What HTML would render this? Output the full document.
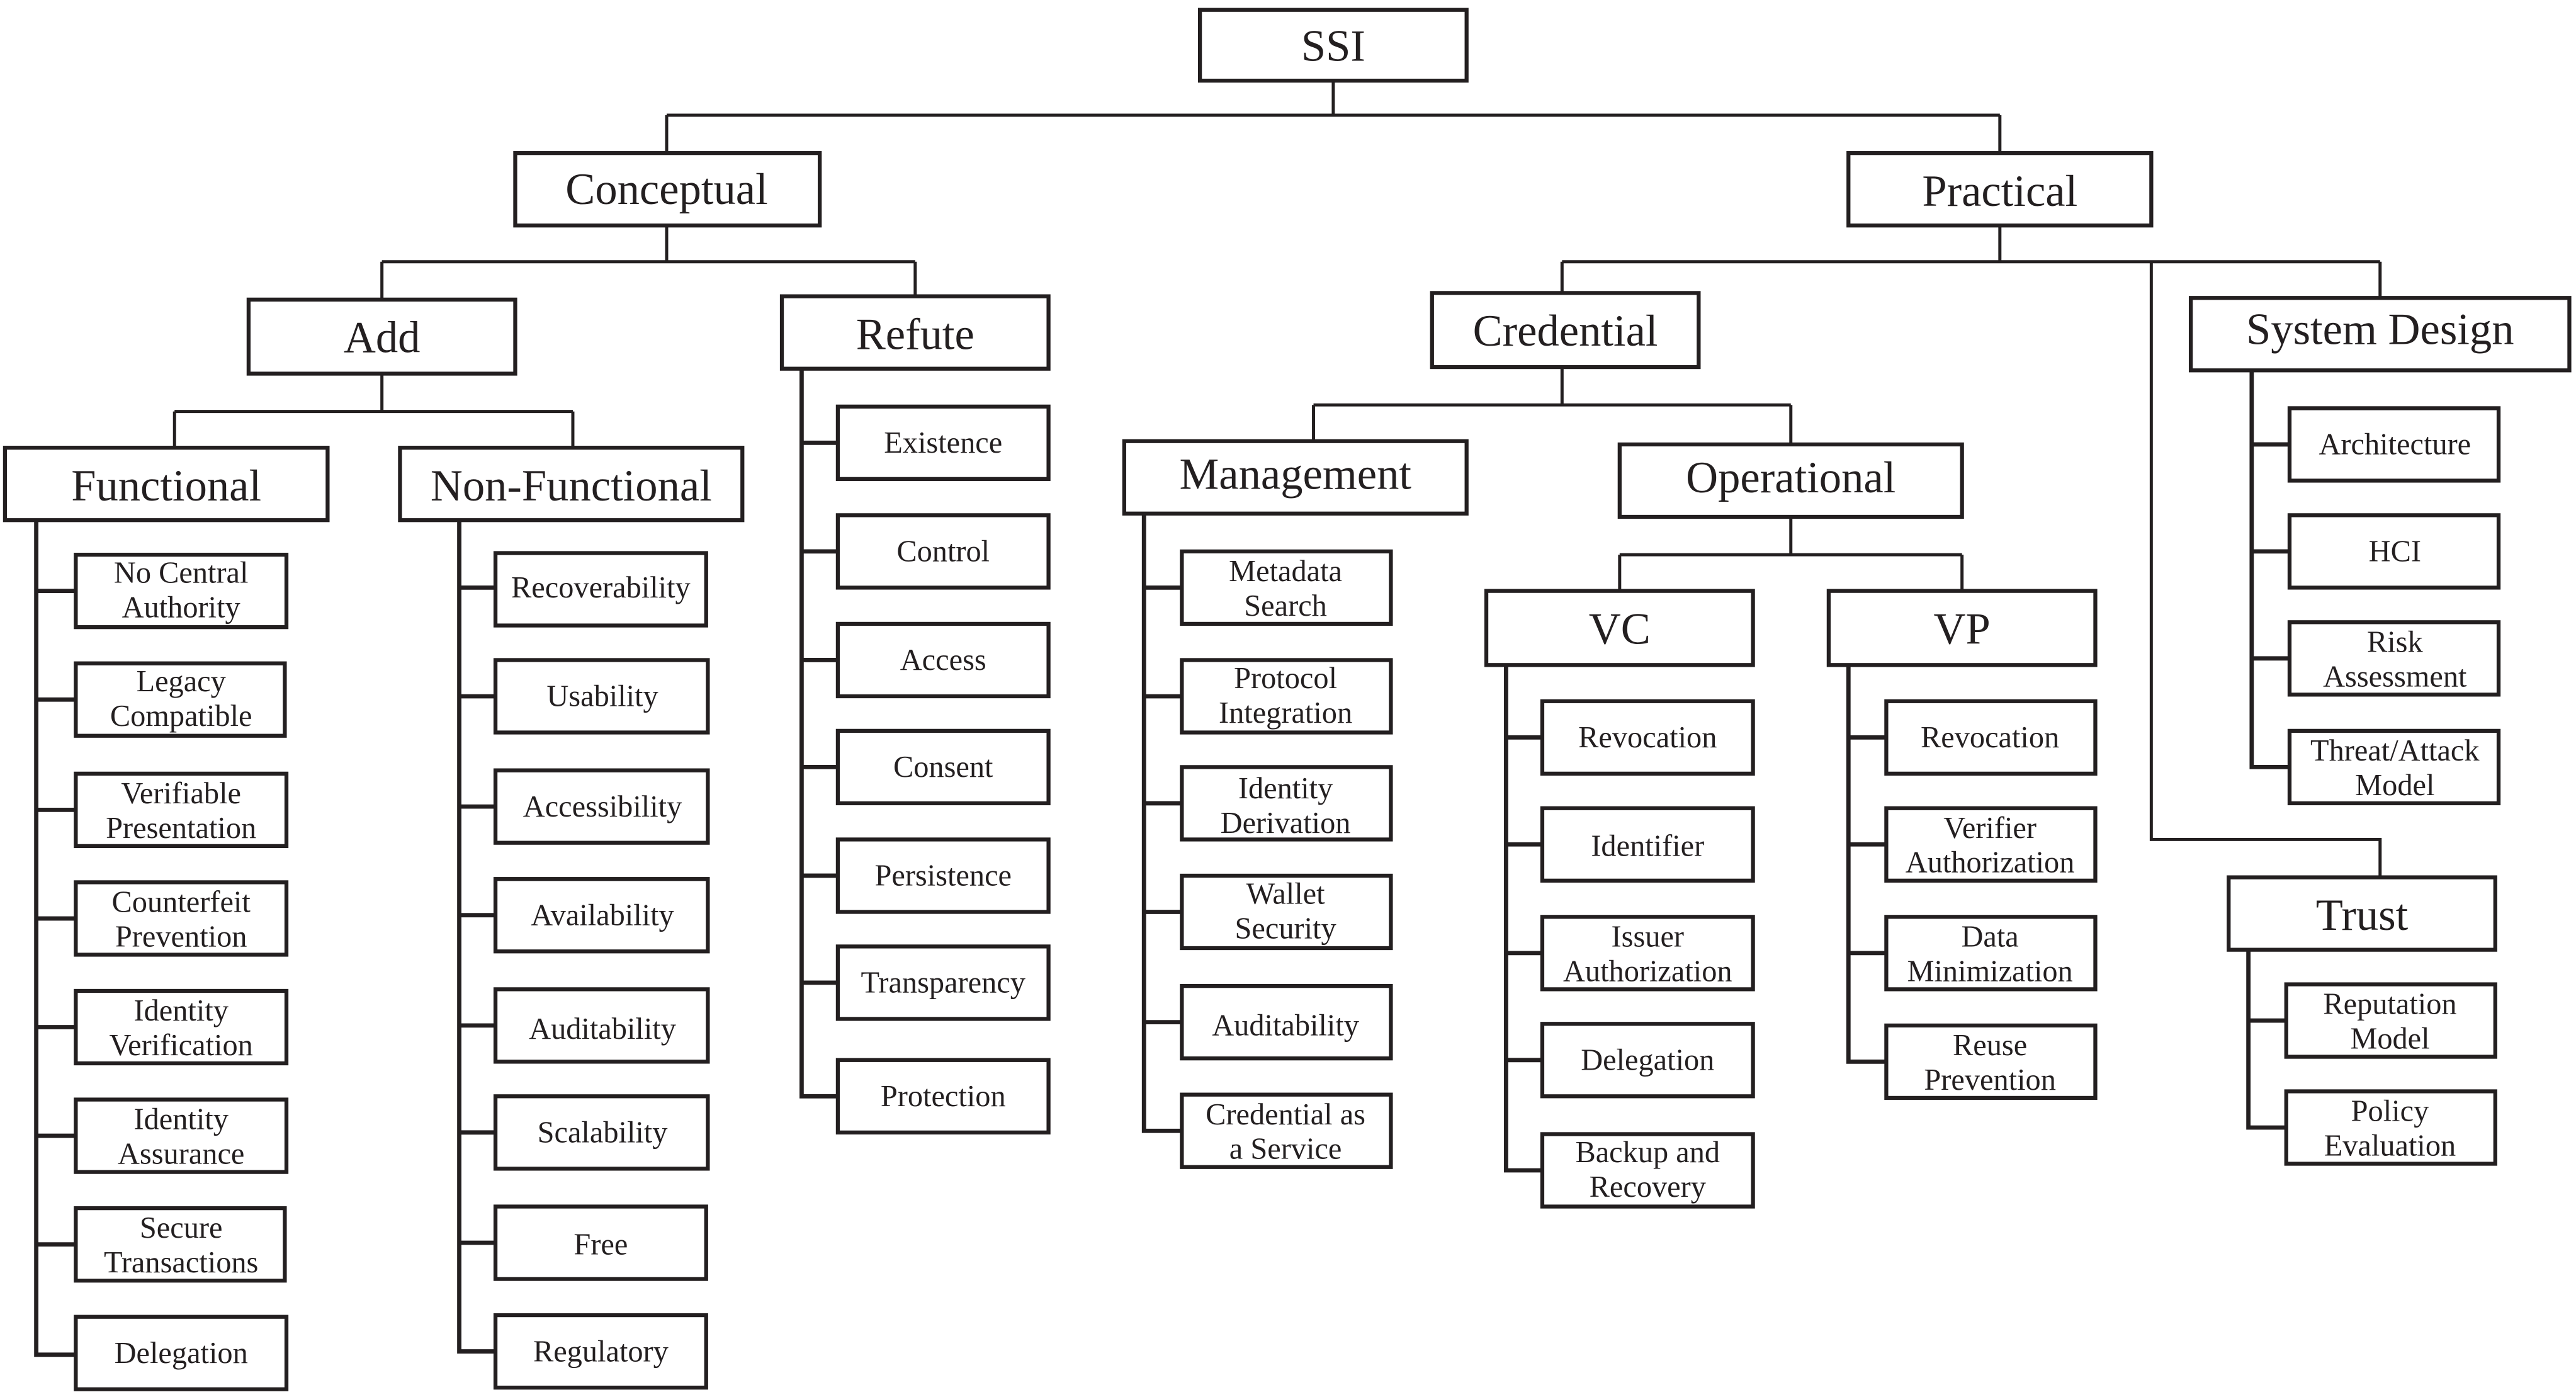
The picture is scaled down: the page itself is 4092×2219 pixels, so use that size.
<!DOCTYPE html>
<html><head><meta charset="utf-8"><style>
html,body{margin:0;padding:0;background:#fff}
svg{display:block}
text{font-family:"Liberation Serif",serif;fill:#231f20;text-anchor:middle}
.h{font-size:27px}
.l{font-size:18.5px}
</style></head><body>
<svg width="4092" height="2219" viewBox="0 0 1565 848.7" xmlns="http://www.w3.org/2000/svg">
<g fill="none" stroke="#231f20" stroke-width="1.9">
<!-- top connectors -->
<path d="M810 49V70M405 70H1215M405 70V93M1215 70V93"/>
<path d="M405 137V159M232 159H556M232 159V182M556 159V180"/>
<path d="M232 227V250M106 250H348M106 250V272M348 250V272"/>
<path d="M1215 137V159M949 159H1446M949 159V178M1446 159V181M1307 159V510H1446V533"/>
<path d="M949 223V246M798 246H1088M798 246V268M1088 246V270"/>
<path d="M1088 314V337M984 337H1192M984 337V359M1192 337V359"/>
</g>
<g fill="none" stroke="#231f20" stroke-width="2.6">
<!-- spines -->
<path d="M22 316V823H46M22 359H46M22 425H46M22 492H46M22 558H46M22 624H46M22 690H46M22 756H46"/>
<path d="M279 316V821H301M279 357H301M279 423H301M279 490H301M279 556H301M279 623H301M279 688H301M279 755H301"/>
<path d="M487 224V666H509M487 269H509M487 335H509M487 401H509M487 466H509M487 532H509M487 597H509"/>
<path d="M695 312V687H718M695 357H718M695 423H718M695 488H718M695 554H718M695 621H718"/>
<path d="M915 404V711H937M915 448H937M915 513H937M915 579H937M915 644H937"/>
<path d="M1123 404V645H1146M1123 448H1146M1123 513H1146M1123 579H1146"/>
<path d="M1368 225V466H1391M1368 270H1391M1368 335H1391M1368 400H1391"/>
<path d="M1366 577V685H1389M1366 620H1389"/>
</g>
<g fill="#fff" stroke="#231f20" stroke-width="2.4">
<rect x="729" y="6" width="162" height="43"/>
<rect x="313" y="93" width="185" height="44"/>
<rect x="1123" y="93" width="184" height="44"/>
<rect x="151" y="182" width="162" height="45"/>
<rect x="475" y="180" width="162" height="44"/>
<rect x="3" y="272" width="196" height="44"/>
<rect x="243" y="272" width="208" height="44"/>
<rect x="870" y="178" width="162" height="45"/>
<rect x="1331" y="181" width="230" height="44"/>
<rect x="683" y="268" width="208" height="44"/>
<rect x="984" y="270" width="208" height="44"/>
<rect x="903" y="359" width="162" height="45"/>
<rect x="1111" y="359" width="162" height="45"/>
<rect x="1354" y="533" width="162" height="44"/>
<!-- functional leaves -->
<rect x="46" y="337" width="128" height="44"/>
<rect x="46" y="403" width="127" height="44"/>
<rect x="46" y="470" width="128" height="44"/>
<rect x="46" y="536" width="128" height="44"/>
<rect x="46" y="602" width="128" height="44"/>
<rect x="46" y="668" width="128" height="44"/>
<rect x="46" y="734" width="127" height="44"/>
<rect x="46" y="800" width="128" height="44"/>
<!-- nonfunctional -->
<rect x="301" y="336" width="128" height="44"/>
<rect x="301" y="401" width="129" height="44"/>
<rect x="301" y="468" width="129" height="44"/>
<rect x="301" y="534" width="129" height="44"/>
<rect x="301" y="601" width="129" height="44"/>
<rect x="301" y="666" width="129" height="44"/>
<rect x="301" y="733" width="128" height="44"/>
<rect x="301" y="799" width="128" height="44"/>
<!-- refute -->
<rect x="509" y="247" width="128" height="44"/>
<rect x="509" y="313" width="128" height="44"/>
<rect x="509" y="379" width="128" height="44"/>
<rect x="509" y="444" width="128" height="44"/>
<rect x="509" y="510" width="128" height="44"/>
<rect x="509" y="575" width="128" height="44"/>
<rect x="509" y="644" width="128" height="44"/>
<!-- management -->
<rect x="718" y="335" width="127" height="44"/>
<rect x="718" y="401" width="127" height="44"/>
<rect x="718" y="466" width="127" height="44"/>
<rect x="718" y="532" width="127" height="44"/>
<rect x="718" y="599" width="127" height="44"/>
<rect x="718" y="665" width="127" height="44"/>
<!-- VC -->
<rect x="937" y="426" width="128" height="44"/>
<rect x="937" y="491" width="128" height="44"/>
<rect x="937" y="557" width="128" height="44"/>
<rect x="937" y="622" width="128" height="44"/>
<rect x="937" y="689" width="128" height="44"/>
<!-- VP -->
<rect x="1146" y="426" width="127" height="44"/>
<rect x="1146" y="491" width="127" height="44"/>
<rect x="1146" y="557" width="127" height="44"/>
<rect x="1146" y="623" width="127" height="44"/>
<!-- system design -->
<rect x="1391" y="248" width="127" height="44"/>
<rect x="1391" y="313" width="127" height="44"/>
<rect x="1391" y="378" width="127" height="44"/>
<rect x="1391" y="444" width="127" height="44"/>
<!-- trust -->
<rect x="1389" y="598" width="127" height="44"/>
<rect x="1389" y="663" width="127" height="44"/>
</g>
<g class="h">
<text x="810" y="37">SSI</text>
<text x="405" y="124">Conceptual</text>
<text x="1215" y="125">Practical</text>
<text x="232" y="214">Add</text>
<text x="556" y="212">Refute</text>
<text x="101" y="304">Functional</text>
<text x="347" y="304">Non-Functional</text>
<text x="951" y="210">Credential</text>
<text x="1446" y="209">System Design</text>
<text x="787" y="297">Management</text>
<text x="1088" y="299">Operational</text>
<text x="984" y="391">VC</text>
<text x="1192" y="391">VP</text>
<text x="1435" y="565">Trust</text>
</g>
<g class="l">
<text x="110" y="354">No Central</text><text x="110" y="375">Authority</text>
<text x="110" y="420">Legacy</text><text x="110" y="441">Compatible</text>
<text x="110" y="488">Verifiable</text><text x="110" y="509">Presentation</text>
<text x="110" y="554">Counterfeit</text><text x="110" y="575">Prevention</text>
<text x="110" y="620">Identity</text><text x="110" y="641">Verification</text>
<text x="110" y="686">Identity</text><text x="110" y="707">Assurance</text>
<text x="110" y="752">Secure</text><text x="110" y="773">Transactions</text>
<text x="110" y="828">Delegation</text>
<text x="365" y="363">Recoverability</text>
<text x="366" y="429">Usability</text>
<text x="366" y="496">Accessibility</text>
<text x="366" y="562">Availability</text>
<text x="366" y="631">Auditability</text>
<text x="366" y="694">Scalability</text>
<text x="365" y="762">Free</text>
<text x="365" y="827">Regulatory</text>
<text x="573" y="275">Existence</text>
<text x="573" y="341">Control</text>
<text x="573" y="407">Access</text>
<text x="573" y="472">Consent</text>
<text x="573" y="538">Persistence</text>
<text x="573" y="603">Transparency</text>
<text x="573" y="672">Protection</text>
<text x="781" y="353">Metadata</text><text x="781" y="374">Search</text>
<text x="781" y="418">Protocol</text><text x="781" y="439">Integration</text>
<text x="781" y="485">Identity</text><text x="781" y="506">Derivation</text>
<text x="781" y="549">Wallet</text><text x="781" y="570">Security</text>
<text x="781" y="629">Auditability</text>
<text x="781" y="683">Credential as</text><text x="781" y="704">a Service</text>
<text x="1001" y="454">Revocation</text>
<text x="1001" y="520">Identifier</text>
<text x="1001" y="575">Issuer</text><text x="1001" y="596">Authorization</text>
<text x="1001" y="650">Delegation</text>
<text x="1001" y="706">Backup and</text><text x="1001" y="727">Recovery</text>
<text x="1209" y="454">Revocation</text>
<text x="1209" y="509">Verifier</text><text x="1209" y="530">Authorization</text>
<text x="1209" y="575">Data</text><text x="1209" y="596">Minimization</text>
<text x="1209" y="641">Reuse</text><text x="1209" y="662">Prevention</text>
<text x="1455" y="276">Architecture</text>
<text x="1455" y="341">HCI</text>
<text x="1455" y="396">Risk</text><text x="1455" y="417">Assessment</text>
<text x="1455" y="462">Threat/Attack</text><text x="1455" y="483">Model</text>
<text x="1452" y="616">Reputation</text><text x="1452" y="637">Model</text>
<text x="1452" y="681">Policy</text><text x="1452" y="702">Evaluation</text>
</g>
</svg>
</body></html>
